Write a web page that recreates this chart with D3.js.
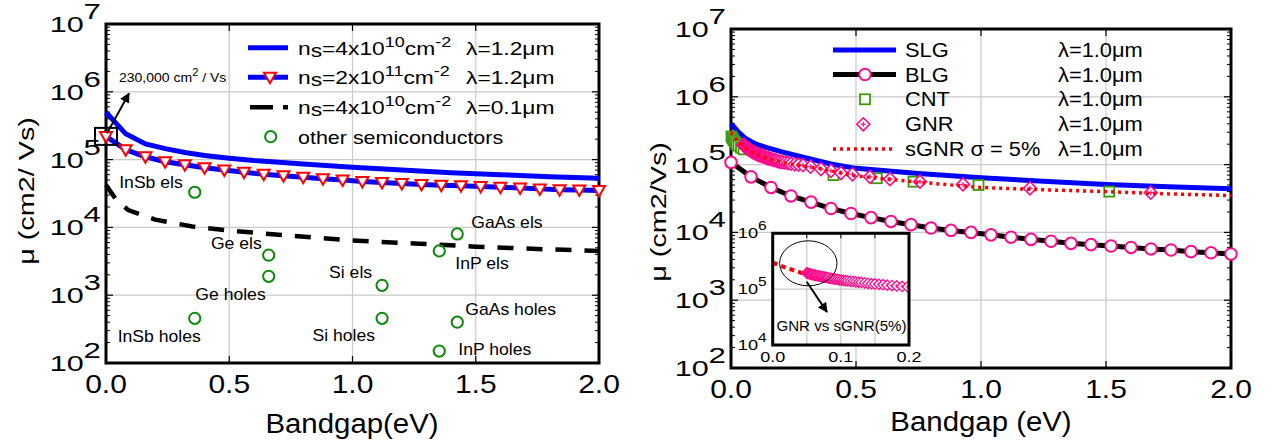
<!DOCTYPE html>
<html><head><meta charset="utf-8">
<script src="https://cdn.jsdelivr.net/npm/d3@7"></script>
<style>
body{margin:0;background:#fff}
svg{display:block}
text{font-family:"Liberation Sans",Arial,Helvetica,sans-serif;fill:#000}
</style>
</head><body>
<svg id="c" width="1273" height="442"></svg>
<script>
// ---------------- DATA ----------------
const xTickVals = [0, 0.5, 1.0, 1.5, 2.0];
const xTickLabels = ["0.0", "0.5", "1.0", "1.5", "2.0"];
const yTickExps = [2, 3, 4, 5, 6, 7];

// Left panel
const leftGapX = [0,0.08,0.16,0.24,0.32,0.40,0.48,0.56,0.64,0.72,0.80,0.88,0.96,1.04,1.12,1.20,1.28,1.36,1.44,1.52,1.60,1.68,1.76,1.84,1.92,2.00];
const muHighNs = [2.2e5,1.4e5,1.1e5,9.3e4,8.4e4,7.6e4,7.0e4,6.5e4,6.1e4,5.8e4,5.5e4,5.2e4,5.0e4,4.75e4,4.6e4,4.45e4,4.3e4,4.2e4,4.1e4,4.0e4,3.9e4,3.8e4,3.7e4,3.6e4,3.55e4,3.5e4];
const lowNsX = [0,0.08,0.16,0.24,0.32,0.40,0.50,0.60,0.80,1.00,1.20,1.40,1.60,1.80,2.00];
const muLowNs = [5.0e5,2.4e5,1.7e5,1.45e5,1.27e5,1.15e5,1.05e5,9.7e4,8.6e4,7.7e4,7.0e4,6.4e4,6.0e4,5.6e4,5.3e4];
const shortLambdaX = [0,0.04,0.09,0.2,0.35,0.5,0.7,1.0,1.25,1.5,1.75,2.0];
const muShortLambda = [4.2e4,2.6e4,1.8e4,1.3e4,1.03e4,9.0e3,7.8e3,6.4e3,5.8e3,5.2e3,4.8e3,4.5e3];
const semiNames = ["InSb els","InSb holes","Ge els","Ge holes","Si els","Si holes","GaAs els","GaAs holes","InP els","InP holes"];
const semiGap = [0.36,0.36,0.66,0.66,1.12,1.12,1.425,1.425,1.352,1.352];
const semiMu = [3.3e4,456,3.9e3,1.9e3,1.4e3,456,8.0e3,400,4.5e3,150];
const leftLegend = ["4x10|10|cm|-2|λ=1.2μm", "2x10|11|cm|-2|λ=1.2μm", "4x10|10|cm|-2|λ=0.1μm"];

// Right panel
const blgX = [0,0.08,0.16,0.24,0.32,0.40,0.48,0.56,0.64,0.72,0.80,0.88,0.96,1.04,1.12,1.20,1.28,1.36,1.44,1.52,1.60,1.68,1.76,1.84,1.92,2.00];
const muBLG = [1.08e5,6.6e4,4.6e4,3.45e4,2.8e4,2.25e4,1.9e4,1.65e4,1.45e4,1.3e4,1.16e4,1.07e4,1.0e4,9.2e3,8.5e3,7.9e3,7.4e3,6.9e3,6.6e3,6.3e3,6.0e3,5.7e3,5.5e3,5.2e3,5.0e3,4.8e3];
const slgX = [0,0.03,0.06,0.1,0.15,0.2,0.3,0.4,0.5,0.75,1.0,1.25,1.5,1.75,2.0];
const muSLG = [4.0e5,3.0e5,2.4e5,2.0e5,1.75e5,1.55e5,1.25e5,1.02e5,8.8e4,7.4e4,6.4e4,5.7e4,5.1e4,4.7e4,4.4e4];
const cntX = [0.002,0.006,0.01,0.016,0.022,0.03,0.04,0.05,0.41,0.583,0.73,0.99,1.513];
const muCNT = [2.6e5,2.45e5,2.3e5,2.15e5,2.0e5,1.9e5,1.78e5,1.68e5,7.0e4,6.3e4,5.6e4,5.0e4,4.0e4];
const gnrX = [0.050,0.051,0.052,0.054,0.055,0.056,0.057,0.059,0.060,0.062,0.063,0.065,0.066,0.068,0.070,0.072,0.074,0.076,0.078,0.080,0.082,0.085,0.087,0.090,0.092,0.095,0.098,0.101,0.104,0.107,0.110,0.114,0.118,0.122,0.126,0.130,0.135,0.140,0.145,0.150,0.156,0.162,0.168,0.175,0.182,0.190,0.198,0.207,0.217,0.228,0.240,0.255,0.270,0.288,0.318,0.36,0.40,0.44,0.486,0.556,0.636,0.756,0.928,1.196,1.679];
const muGNR = [1.95e5,1.93e5,1.91e5,1.88e5,1.86e5,1.85e5,1.83e5,1.81e5,1.80e5,1.78e5,1.76e5,1.74e5,1.73e5,1.71e5,1.70e5,1.68e5,1.66e5,1.64e5,1.62e5,1.60e5,1.58e5,1.56e5,1.54e5,1.52e5,1.51e5,1.49e5,1.47e5,1.45e5,1.43e5,1.42e5,1.40e5,1.38e5,1.37e5,1.35e5,1.33e5,1.32e5,1.30e5,1.27e5,1.25e5,1.24e5,1.22e5,1.20e5,1.18e5,1.16e5,1.14e5,1.12e5,1.10e5,1.085e5,1.07e5,1.05e5,1.03e5,1.01e5,1.0e5,9.8e4,9.3e4,8.6e4,8.1e4,7.5e4,7.2e4,6.6e4,6.1e4,5.6e4,5.1e4,4.47e4,3.85e4];
const sgnrX = [0,0.02,0.047,0.09,0.15,0.22,0.3,0.36,0.5,0.75,1.0,1.25,1.5,1.75,2.0];
const muSGNR = [3.0e5,2.4e5,1.87e5,1.47e5,1.22e5,1.05e5,9.4e4,8.7e4,6.8e4,5.5e4,4.6e4,4.25e4,4.0e4,3.7e4,3.5e4];
const rightLegend = ["SLG", "BLG", "CNT", "GNR", "sGNR σ = 5%"];
const rightLambda = "λ=1.0μm";
const insetXTicks = [0, 0.05, 0.1, 0.15, 0.2];
const insetXLabels = ["0.0", "", "0.1", "", "0.2"];
const insetYExps = [4, 5, 6];

// ---------------- STYLE / LAYOUT ----------------
const BLUE = "#0000ff", RED = "#ff0000", PINK = "#ff0a8c", GREEN_L = "#0a8a0a", GREEN_R = "#3c9a0a", GRID = "#cacaca";
const svg = d3.select("#c");
const defs = svg.append("defs");
defs.append("marker").attr("id","arr").attr("viewBox","0 0 10 10").attr("refX",9).attr("refY",5)
  .attr("markerWidth",10).attr("markerHeight",10).attr("markerUnits","userSpaceOnUse").attr("orient","auto")
  .append("path").attr("d","M0,0L10,5L0,10z").attr("fill","#000");

function T(parent, x, y, size, anchor, sx, rot) {
  const g = parent.append("g").attr("transform", `translate(${x},${y})` + (rot ? ` rotate(${rot})` : "") + ` scale(${sx},1)`);
  return g.append("text").attr("font-size", size).attr("text-anchor", anchor || "start");
}

function panel(box) {
  const x = d3.scaleLinear().domain([0, 2]).range([box.x0, box.x1]);
  const y = d3.scaleLog().domain([1e2, 1e7]).range([box.y1, box.y0]);
  const g = svg.append("g");
  g.selectAll(null).data(xTickVals.slice(1, -1)).join("line")
    .attr("x1", d => x(d)).attr("x2", d => x(d)).attr("y1", box.y0).attr("y2", box.y1)
    .attr("stroke", GRID).attr("stroke-width", 1.2);
  g.selectAll(null).data(yTickExps.slice(1, -1)).join("line")
    .attr("y1", d => y(Math.pow(10, d))).attr("y2", d => y(Math.pow(10, d))).attr("x1", box.x0).attr("x2", box.x1)
    .attr("stroke", GRID).attr("stroke-width", 1.2);
  const minors = [];
  for (let e = 2; e < 7; e++) for (let m = 2; m <= 9; m++) minors.push(m * Math.pow(10, e));
  [[box.x0, 1], [box.x1, -1]].forEach(([xx, s]) => {
    g.selectAll(null).data(minors).join("line")
      .attr("x1", xx).attr("x2", xx + s * 4).attr("y1", d => y(d)).attr("y2", d => y(d))
      .attr("stroke", "#000").attr("stroke-width", 1);
    g.selectAll(null).data(yTickExps).join("line")
      .attr("x1", xx).attr("x2", xx + s * 7).attr("y1", d => y(Math.pow(10, d))).attr("y2", d => y(Math.pow(10, d)))
      .attr("stroke", "#000").attr("stroke-width", 1.2);
  });
  [[box.y0, 1], [box.y1, -1]].forEach(([yy, s]) => {
    g.selectAll(null).data(xTickVals).join("line")
      .attr("x1", d => x(d)).attr("x2", d => x(d)).attr("y1", yy).attr("y2", yy + s * 7)
      .attr("stroke", "#000").attr("stroke-width", 1.2);
  });
  g.append("rect").attr("x", box.x0).attr("y", box.y0).attr("width", box.x1 - box.x0).attr("height", box.y1 - box.y0)
    .attr("fill", "none").attr("stroke", "#000").attr("stroke-width", 3);
  xTickVals.forEach((v, i) => {
    T(g, x(v), box.y1 + 30, 25, "middle", 1.2).text(xTickLabels[i]);
  });
  yTickExps.forEach(e => {
    const t = T(g, box.x0 - 5, y(Math.pow(10, e)) + 8, 21.5, "end", 1.42);
    t.append("tspan").text("10");
    t.append("tspan").attr("dy", -13).attr("font-size", 22).text(e);
  });
  return { x, y, g };
}

const L = panel({ x0: 106, x1: 599, y0: 24, y1: 363 });
const R = panel({ x0: 731, x1: 1231, y0: 29, y1: 368 });

// axis labels
T(svg, 352, 433, 28, "middle", 1.05).text("Bandgap(eV)");
T(svg, 981, 431, 28, "middle", 1.05).text("Bandgap (eV)");
T(svg, 34, 191, 22.5, "middle", 1.28, -90).text("μ (cm2/ Vs)");
T(svg, 666, 212, 22.5, "middle", 1.28, -90).text("μ (cm2/Vs)");

const triPath = "M-6,-4.5L6,-4.5L0,6Z";
const diaPath = "M0,-6.5L6.5,0L0,6.5L-6.5,0Z";
function diamond(g, cx, cy, s) {
  const k = s || 1;
  const d = g.append("g").attr("transform", `translate(${cx},${cy}) scale(${k})`);
  d.append("path").attr("d", diaPath).attr("fill", "#fff").attr("stroke", PINK).attr("stroke-width", 1.6);
  d.append("path").attr("d", "M-2.5,0H2.5M0,-2.5V2.5").attr("stroke", PINK).attr("stroke-width", 1.2);
}

// ---------------- LEFT PANEL SERIES ----------------
{
  const { x, y } = L;
  const g = svg.append("g");
  const line = d3.line().x(d => x(d[0])).y(d => y(d[1]));
  g.append("path").attr("d", line(lowNsX.map((v, i) => [v, muLowNs[i]])))
    .attr("fill", "none").attr("stroke", BLUE).attr("stroke-width", 5);
  g.append("path").attr("d", line(leftGapX.map((v, i) => [v, muHighNs[i]])))
    .attr("fill", "none").attr("stroke", BLUE).attr("stroke-width", 5);
  g.selectAll(null).data(leftGapX.map((v, i) => [v, muHighNs[i]])).join("path")
    .attr("transform", d => `translate(${x(d[0])},${y(d[1])})`).attr("d", triPath)
    .attr("fill", "#fff").attr("stroke", RED).attr("stroke-width", 2);
  g.append("path").attr("d", line(shortLambdaX.map((v, i) => [v, muShortLambda[i]])))
    .attr("fill", "none").attr("stroke", "#000").attr("stroke-width", 4.5).attr("stroke-dasharray", "16,13");
  g.selectAll(null).data(semiGap.map((v, i) => [v, semiMu[i]])).join("circle")
    .attr("cx", d => x(d[0])).attr("cy", d => y(d[1])).attr("r", 5.6)
    .attr("fill", "none").attr("stroke", GREEN_L).attr("stroke-width", 2);
  const semiLabelLayout = [["end",-12,-4],["end",6,24],["end",-7,-6],["end",-3,24],["end",-10,-7],["end",-7,23],["start",14,-6],["start",8,-7],["start",16,18],["start",19,4]];
  semiNames.forEach((n, i) => {
    const [a, dx, dy] = semiLabelLayout[i];
    T(g, x(semiGap[i]) + dx, y(semiMu[i]) + dy, 16, a, 1.1).text(n);
  });
  const px = x(leftGapX[0]), py = y(muHighNs[0]);
  g.append("rect").attr("x", px - 11).attr("y", py - 8.5).attr("width", 22).attr("height", 17)
    .attr("fill", "none").attr("stroke", "#000").attr("stroke-width", 2);
  g.append("line").attr("x1", px + 1).attr("y1", py - 3).attr("x2", px + 23).attr("y2", py - 43)
    .attr("stroke", "#000").attr("stroke-width", 2).attr("marker-end", "url(#arr)");
  const ann = T(g, 119, 82, 12.5, "start", 1.12);
  ann.append("tspan").text("230,000 cm");
  ann.append("tspan").attr("dy", -6).attr("font-size", 10).text("2");
  ann.append("tspan").attr("dy", 6).text(" / Vs");

  const rows = [47.7, 77.3, 107.3, 136.7];
  g.append("line").attr("x1", 248).attr("x2", 288).attr("y1", rows[0]).attr("y2", rows[0]).attr("stroke", BLUE).attr("stroke-width", 5);
  g.append("line").attr("x1", 248).attr("x2", 288).attr("y1", rows[1]).attr("y2", rows[1]).attr("stroke", BLUE).attr("stroke-width", 5);
  g.append("path").attr("transform", `translate(270,${rows[1]})`).attr("d", triPath).attr("fill", "#fff").attr("stroke", RED).attr("stroke-width", 2);
  g.append("line").attr("x1", 250).attr("x2", 288).attr("y1", rows[2]).attr("y2", rows[2]).attr("stroke", "#000").attr("stroke-width", 4.5).attr("stroke-dasharray", "23,10");
  g.append("circle").attr("cx", 270.7).attr("cy", rows[3]).attr("r", 5.6).attr("fill", "none").attr("stroke", GREEN_L).attr("stroke-width", 2);
  leftLegend.forEach((s, i) => {
    const p = s.split("|");
    const t = T(g, 298, rows[i] + 7, 19, "start", 1.2);
    t.append("tspan").text("n");
    t.append("tspan").attr("dy", 2).text("s");
    t.append("tspan").attr("dy", -2).text("=" + p[0]);
    t.append("tspan").attr("dy", -8).attr("font-size", 15).text(p[1]);
    t.append("tspan").attr("dy", 8).text(p[2]);
    t.append("tspan").attr("dy", -8).attr("font-size", 15).text(p[3]);
    T(g, 466, rows[i] + 7, 19, "start", 1.2).text(p[4]);
  });
  T(g, 298, rows[3] + 7, 19, "start", 1.13).text("other semiconductors");
}

// ---------------- RIGHT PANEL SERIES ----------------
{
  const { x, y } = R;
  const g = svg.append("g");
  const line = d3.line().x(d => x(d[0])).y(d => y(d[1]));
  g.append("path").attr("d", line(slgX.map((v, i) => [v, muSLG[i]])))
    .attr("fill", "none").attr("stroke", BLUE).attr("stroke-width", 5);
  g.append("path").attr("d", line(blgX.map((v, i) => [v, muBLG[i]])))
    .attr("fill", "none").attr("stroke", "#000").attr("stroke-width", 5);
  g.selectAll(null).data(blgX.map((v, i) => [v, muBLG[i]])).join("circle")
    .attr("cx", d => x(d[0])).attr("cy", d => y(d[1])).attr("r", 5.8)
    .attr("fill", "#fff").attr("stroke", PINK).attr("stroke-width", 2);
  g.selectAll(null).data(cntX.map((v, i) => [v, muCNT[i]])).join("rect")
    .attr("x", d => x(d[0]) - 5).attr("y", d => y(d[1]) - 5).attr("width", 10).attr("height", 10)
    .attr("fill", "#fff").attr("stroke", GREEN_R).attr("stroke-width", 1.8);
  gnrX.forEach((v, i) => diamond(g, x(v), y(muGNR[i])));
  g.append("path").attr("d", line(sgnrX.map((v, i) => [v, muSGNR[i]])))
    .attr("fill", "none").attr("stroke", RED).attr("stroke-width", 3.5).attr("stroke-dasharray", "3,4");

  const rows = [50, 74.5, 99.3, 124.3, 149];
  g.append("line").attr("x1", 833).attr("x2", 896).attr("y1", rows[0]).attr("y2", rows[0]).attr("stroke", BLUE).attr("stroke-width", 5);
  g.append("line").attr("x1", 833).attr("x2", 896).attr("y1", rows[1]).attr("y2", rows[1]).attr("stroke", "#000").attr("stroke-width", 5);
  g.append("circle").attr("cx", 865).attr("cy", rows[1]).attr("r", 5.8).attr("fill", "#fff").attr("stroke", PINK).attr("stroke-width", 2);
  g.append("rect").attr("x", 860).attr("y", rows[2] - 5).attr("width", 10).attr("height", 10).attr("fill", "#fff").attr("stroke", GREEN_R).attr("stroke-width", 1.8);
  diamond(g, 863.3, rows[3]);
  g.append("line").attr("x1", 833).attr("x2", 896).attr("y1", rows[4]).attr("y2", rows[4]).attr("stroke", RED).attr("stroke-width", 3.5).attr("stroke-dasharray", "3,4");
  rightLegend.forEach((s, i) => {
    T(g, 905, rows[i] + 7, 19.5, "start", 1.12).text(s);
    T(g, 1058, rows[i] + 7, 19.5, "start", 1.12).text(rightLambda);
  });

  // inset
  const ib = { x0: 772.7, x1: 909, y0: 233.3, y1: 345 };
  const ix = d3.scaleLinear().domain([0, 0.2]).range([ib.x0, ib.x1]);
  const iy = d3.scaleLog().domain([1e4, 1e6]).range([ib.y1, ib.y0]);
  const gi = svg.append("g");
  gi.append("rect").attr("x", ib.x0).attr("y", ib.y0).attr("width", ib.x1 - ib.x0).attr("height", ib.y1 - ib.y0).attr("fill", "#fff");
  gi.selectAll(null).data(insetXTicks.slice(1, -1)).join("line")
    .attr("x1", d => ix(d)).attr("x2", d => ix(d)).attr("y1", ib.y0).attr("y2", ib.y1).attr("stroke", GRID).attr("stroke-width", 1.2);
  gi.append("line").attr("x1", ib.x0).attr("x2", ib.x1).attr("y1", iy(1e5)).attr("y2", iy(1e5)).attr("stroke", GRID).attr("stroke-width", 1.2);
  gi.selectAll(null).data(insetXTicks).join("line")
    .attr("x1", d => ix(d)).attr("x2", d => ix(d)).attr("y1", ib.y0).attr("y2", ib.y0 + 5).attr("stroke", "#000");
  const clipId = "insetClip";
  defs.append("clipPath").attr("id", clipId).append("rect").attr("x", ib.x0).attr("y", ib.y0).attr("width", ib.x1 - ib.x0).attr("height", ib.y1 - ib.y0);
  const gd = gi.append("g").attr("clip-path", `url(#${clipId})`);
  const iline = d3.line().x(d => ix(d[0])).y(d => iy(d[1]));
  gd.append("path").attr("d", iline(sgnrX.map((v, i) => [v, muSGNR[i]])))
    .attr("fill", "none").attr("stroke", RED).attr("stroke-width", 4).attr("stroke-dasharray", "5,4");
  gnrX.forEach((v, i) => { if (v <= 0.2) diamond(gd, ix(v), iy(muGNR[i]), 0.8); });
  gi.append("rect").attr("x", ib.x0).attr("y", ib.y0).attr("width", ib.x1 - ib.x0).attr("height", ib.y1 - ib.y0)
    .attr("fill", "none").attr("stroke", "#000").attr("stroke-width", 3);
  gi.append("ellipse").attr("cx", 808.3).attr("cy", 263.3).attr("rx", 28.7).attr("ry", 22.5)
    .attr("fill", "none").attr("stroke", "#000").attr("stroke-width", 1);
  gi.append("line").attr("x1", 806.7).attr("y1", 281.7).attr("x2", 827).attr("y2", 312)
    .attr("stroke", "#000").attr("stroke-width", 2).attr("marker-end", "url(#arr)");
  T(gi, 841.5, 331, 14, "middle", 1.08).text("GNR vs sGNR(5%)");
  insetXTicks.forEach((v, i) => { if (insetXLabels[i]) T(gi, ix(v), 362, 15, "middle", 1.2).text(insetXLabels[i]); });
  insetYExps.forEach(e => {
    const t = T(gi, ib.x0 - 6, iy(Math.pow(10, e)) + 5, 14, "end", 1.3);
    t.append("tspan").text("10");
    t.append("tspan").attr("dy", -8).attr("font-size", 12).text(e);
  });
}
</script>
</body></html>
